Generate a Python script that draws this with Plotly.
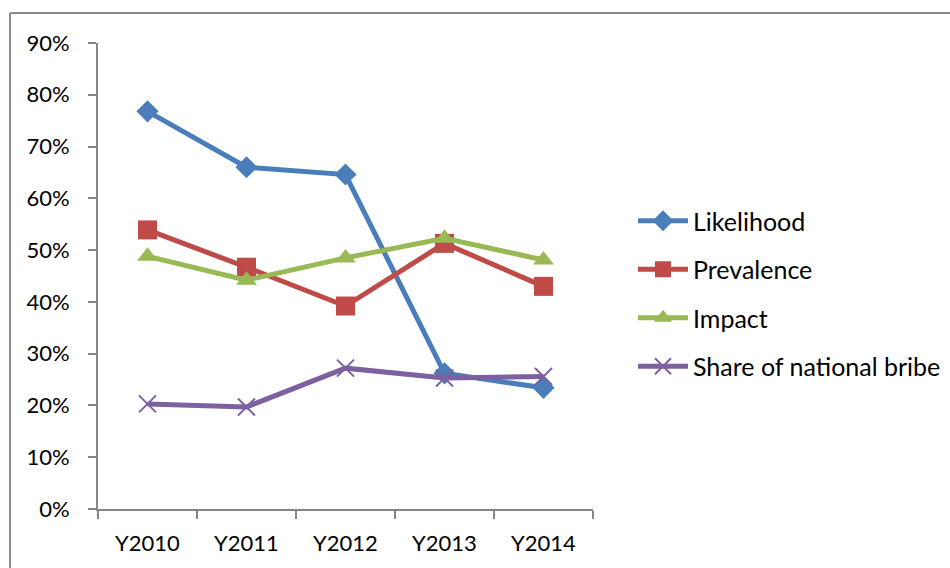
import plotly.graph_objects as go

years = ["Y2010", "Y2011", "Y2012", "Y2013", "Y2014"]
likelihood = [0.768, 0.660, 0.646, 0.262, 0.234]
prevalence = [0.539, 0.467, 0.392, 0.513, 0.430]
impact = [0.488, 0.442, 0.485, 0.523, 0.481]
share_bribe = [0.203, 0.197, 0.272, 0.253, 0.256]

y_ticks = [0, 0.1, 0.2, 0.3, 0.4, 0.5, 0.6, 0.7, 0.8, 0.9]
y_labels = ["0%", "10%", "20%", "30%", "40%", "50%", "60%", "70%", "80%", "90%"]

series = [
    ("Likelihood", likelihood, "#4A7EBB", "diamond", 17, 0),
    ("Prevalence", prevalence, "#BE4B48", "square", 19, 0),
    ("Impact", impact, "#98B954", "triangle-up", 18, 0),
    ("Share of national bribe", share_bribe, "#7D60A0", "x-thin", 17, 2),
]

FONT = "Lato, 'Open Sans', sans-serif"

fig = go.Figure()
for i, (name, vals, color, sym, size, mlw) in enumerate(series):
    marker = dict(symbol=sym, size=size, color=color)
    if sym == "x-thin":
        marker["line"] = dict(color=color, width=mlw)
    fig.add_trace(go.Scatter(
        x=years, y=vals, name=name, mode="lines+markers",
        line=dict(color=color, width=5),
        marker=marker, legendgroup=f"g{i}",
    ))

# chart-area frame (top and left edges)
frame_color = "#8C8C8C"
W, H = 950, 568
L, R, T, B = 98, 357, 43, 59
pw, ph = W - L - R, H - T - B
def px_x(x):
    return (x - L) / pw
def px_y(y):
    return (H - B - y) / ph
fig.add_shape(type="line", xref="paper", yref="paper",
              x0=px_x(10), x1=px_x(W + 2), y0=px_y(13), y1=px_y(13),
              line=dict(color=frame_color, width=2))
fig.add_shape(type="line", xref="paper", yref="paper",
              x0=px_x(10), x1=px_x(10), y0=px_y(13), y1=px_y(H + 2),
              line=dict(color=frame_color, width=2))

axis_color = "#868686"
fig.update_layout(
    width=W, height=H,
    margin=dict(l=L, r=R, t=T, b=B, autoexpand=False),
    paper_bgcolor="white", plot_bgcolor="white",
    font=dict(family=FONT, size=22, color="#000000"),
    showlegend=True,
    legend=dict(
        x=px_x(633), y=px_y(198), xanchor="left", yanchor="top",
        font=dict(family=FONT, size=25, color="#000000"),
        tracegroupgap=13, itemwidth=50,
        bgcolor="rgba(0,0,0,0)",
    ),
    xaxis=dict(
        type="category", tickson="boundaries",
        showline=True, linecolor=axis_color, linewidth=2,
        ticks="outside", ticklen=8, tickwidth=2, tickcolor=axis_color,
        showgrid=False, zeroline=False,
        tickfont=dict(family=FONT, size=22, color="#000000"),
        ticklabelstandoff=14,
        range=[-0.5, 4.5], fixedrange=True,
    ),
    yaxis=dict(
        range=[0, 0.9], tickvals=y_ticks, ticktext=y_labels,
        showline=True, linecolor=axis_color, linewidth=2,
        ticks="outside", ticklen=8, tickwidth=2, tickcolor=axis_color,
        showgrid=False, zeroline=False,
        tickfont=dict(family=FONT, size=22, color="#000000"),
        ticklabelstandoff=14,
    ),
)

fig.write_html("out.html")
